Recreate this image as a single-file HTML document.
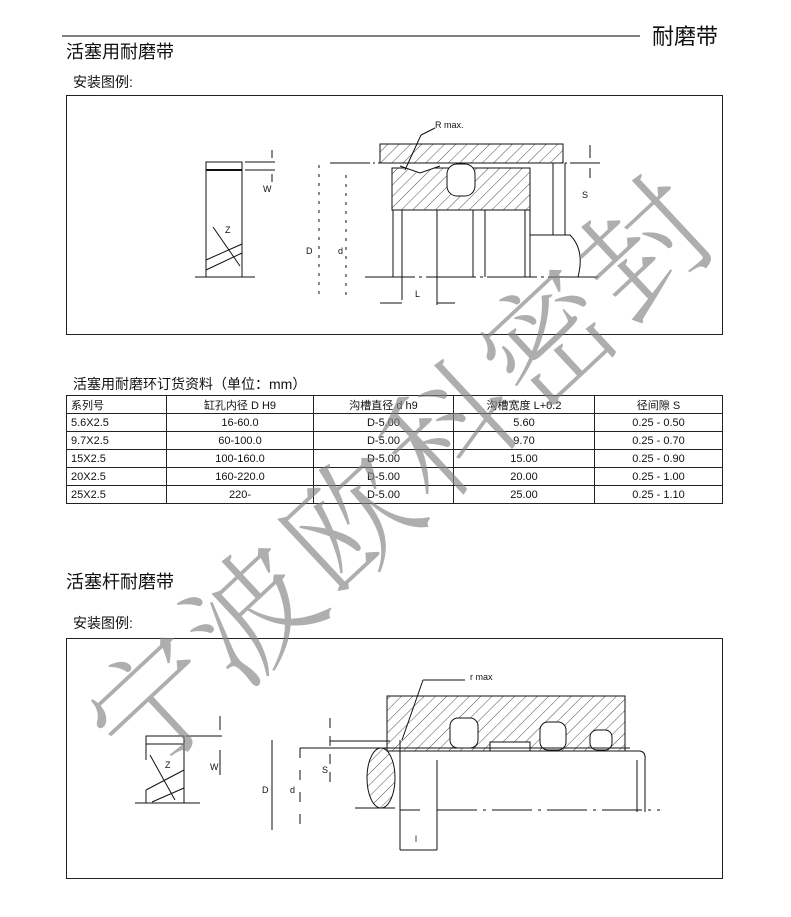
<!DOCTYPE html>
<html><head><meta charset="utf-8">
<style>
body{margin:0;width:791px;height:917px;background:#fff;position:relative;overflow:hidden;font-family:"Liberation Sans","Noto Sans CJK SC",sans-serif;color:#111}
.t{position:absolute;white-space:nowrap}
table{position:absolute;left:66px;top:395px;width:657px;border-collapse:collapse;font-size:11px}
td{border:1px solid #222;height:17px;padding:0;text-align:center}
td:first-child{text-align:left;padding-left:4px}
.wm{position:absolute;left:397px;top:468px;transform:translate(-50%,-50%) rotate(-43deg);font-family:"Noto Serif CJK SC",serif;font-weight:300;font-size:128px;color:rgba(130,130,130,0.65);white-space:nowrap;letter-spacing:6px}
</style></head><body>
<svg width="791" height="917" style="position:absolute;left:0;top:0">
<defs><pattern id="h" width="8" height="8" patternUnits="userSpaceOnUse" patternTransform="rotate(45)"><line x1="0" y1="0" x2="0" y2="8" stroke="#222" stroke-width="0.8"/></pattern></defs>
<line x1="62" y1="36" x2="640" y2="36" stroke="#000"/>
<rect x="66.5" y="95.5" width="656" height="239" fill="none" stroke="#222"/>
<rect x="66.5" y="638.5" width="656" height="240" fill="none" stroke="#222"/>
<g stroke="#111" fill="none" stroke-width="1">
<rect x="206" y="162" width="36" height="115"/><line x1="206" y1="170" x2="242" y2="170" stroke-width="2"/>
<line x1="206" y1="260" x2="242" y2="244"/><line x1="206" y1="270" x2="242" y2="253"/>
<line x1="213" y1="227" x2="240" y2="266"/>
<line x1="195" y1="277" x2="255" y2="277"/>
<line x1="245" y1="162" x2="275" y2="162"/><line x1="245" y1="170" x2="275" y2="170"/>
<line x1="272" y1="150" x2="272" y2="158"/><line x1="272" y1="174" x2="272" y2="182"/>
<rect x="380" y="144" width="183" height="19" fill="url(#h)"/>
<line x1="330" y1="163" x2="600" y2="163" stroke-dasharray="40,3,2,3"/>
<rect x="392" y="168" width="138" height="42" fill="url(#h)"/>
<rect x="447" y="164" width="28" height="32" rx="10" fill="#fff"/>
<path d="M400 166 L420 173 L440 166" fill="#fff"/>
<line x1="393" y1="210" x2="393" y2="277"/><line x1="402" y1="210" x2="402" y2="300"/>
<line x1="437" y1="210" x2="437" y2="305"/><line x1="473" y1="210" x2="473" y2="277"/>
<line x1="485" y1="210" x2="485" y2="277"/><line x1="525" y1="210" x2="525" y2="277"/>
<line x1="530" y1="210" x2="530" y2="277"/>
<line x1="365" y1="277" x2="600" y2="277" stroke-dasharray="50,4,3,4"/>
<line x1="553" y1="163" x2="553" y2="235"/><line x1="565" y1="163" x2="565" y2="235"/>
<path d="M530 235 L570 235 Q585 250 578 277"/>
<line x1="590" y1="145" x2="590" y2="158"/><line x1="590" y1="168" x2="590" y2="178"/>
<line x1="380" y1="303" x2="402" y2="303"/><line x1="437" y1="303" x2="455" y2="303"/>
<line x1="421" y1="135" x2="405" y2="170"/><line x1="421" y1="135" x2="435" y2="128"/>
<line x1="319" y1="165" x2="319" y2="295" stroke-dasharray="3,6"/><line x1="346" y1="175" x2="346" y2="295" stroke-dasharray="3,6"/>
<rect x="146" y="736" width="38" height="8"/>
<line x1="146" y1="744" x2="146" y2="760"/><line x1="184" y1="744" x2="184" y2="803"/>
<path d="M146 790 L184 770 M146 790 L146 803 M152 802 L184 788"/>
<line x1="150" y1="755" x2="175" y2="800"/>
<line x1="135" y1="803" x2="200" y2="803"/>
<line x1="186" y1="736" x2="222" y2="736"/>
<line x1="220" y1="716" x2="220" y2="730"/><line x1="220" y1="750" x2="220" y2="775"/>
<path d="M387 696 L625 696 L625 751 L387 751 Z" fill="url(#h)"/>
<rect x="450" y="718" width="28" height="30" rx="8" fill="#fff"/>
<rect x="540" y="722" width="26" height="28" rx="8" fill="#fff"/>
<rect x="590" y="730" width="22" height="20" rx="7" fill="#fff"/>
<rect x="490" y="742" width="40" height="9" fill="#fff"/>
<line x1="300" y1="748" x2="630" y2="748"/>
<line x1="330" y1="741" x2="390" y2="741"/>
<line x1="400" y1="751" x2="640" y2="751"/>
<line x1="400" y1="740" x2="400" y2="850"/><line x1="437" y1="760" x2="437" y2="850"/>
<path d="M640 751 Q646 752 645 760 L645 812"/><line x1="637" y1="760" x2="637" y2="812"/>
<ellipse cx="381" cy="778" rx="14" ry="30" fill="url(#h)"/>
<line x1="355" y1="808" x2="395" y2="808"/>
<line x1="437" y1="810" x2="660" y2="810" stroke-dasharray="40,6,3,6"/>
<line x1="400" y1="810" x2="420" y2="810"/>
<line x1="400" y1="850" x2="437" y2="850"/>
<line x1="272" y1="740" x2="272" y2="830"/><line x1="300" y1="748" x2="300" y2="830" stroke-dasharray="10,12"/>
<line x1="330" y1="718" x2="330" y2="790" stroke-dasharray="10,8"/>
<line x1="423" y1="680" x2="402" y2="740"/><line x1="423" y1="680" x2="465" y2="680"/>
</g>
<g font-family="Liberation Sans" font-size="9" fill="#111">
<text x="435" y="128">R max.</text><text x="470" y="680">r max</text>
<text x="225" y="233">Z</text><text x="165" y="768">Z</text>
<text x="306" y="254">D</text><text x="338" y="254">d</text><text x="582" y="198">S</text>
<text x="415" y="297">L</text><text x="415" y="842">l</text>
<text x="262" y="793">D</text><text x="290" y="793">d</text><text x="322" y="773">S</text>
<text x="263" y="192">W</text><text x="210" y="770">W</text>
</g>
</svg>
<div class="t" style="left:652px;top:19px;font-size:22px">耐磨带</div>
<div class="t" style="left:66px;top:38px;font-size:18px">活塞用耐磨带</div>
<div class="t" style="left:73px;top:72px;font-size:14px">安装图例:</div>
<div class="t" style="left:73px;top:374px;font-size:14px">活塞用耐磨环订货资料（单位：mm）</div>
<table>
<tr><td style="width:95px">系列号</td><td style="width:146px">缸孔内径 D H9</td><td style="width:139px">沟槽直径 d h9</td><td style="width:140px">沟槽宽度 L+0.2</td><td>径间隙 S</td></tr>
<tr><td>5.6X2.5</td><td>16-60.0</td><td>D-5.00</td><td>5.60</td><td>0.25 - 0.50</td></tr>
<tr><td>9.7X2.5</td><td>60-100.0</td><td>D-5.00</td><td>9.70</td><td>0.25 - 0.70</td></tr>
<tr><td>15X2.5</td><td>100-160.0</td><td>D-5.00</td><td>15.00</td><td>0.25 - 0.90</td></tr>
<tr><td>20X2.5</td><td>160-220.0</td><td>D-5.00</td><td>20.00</td><td>0.25 - 1.00</td></tr>
<tr><td>25X2.5</td><td>220-</td><td>D-5.00</td><td>25.00</td><td>0.25 - 1.10</td></tr>
</table>
<div class="t" style="left:66px;top:568px;font-size:18px">活塞杆耐磨带</div>
<div class="t" style="left:73px;top:613px;font-size:14px">安装图例:</div>
<div class="wm">宁波欧科密封</div>
</body></html>
